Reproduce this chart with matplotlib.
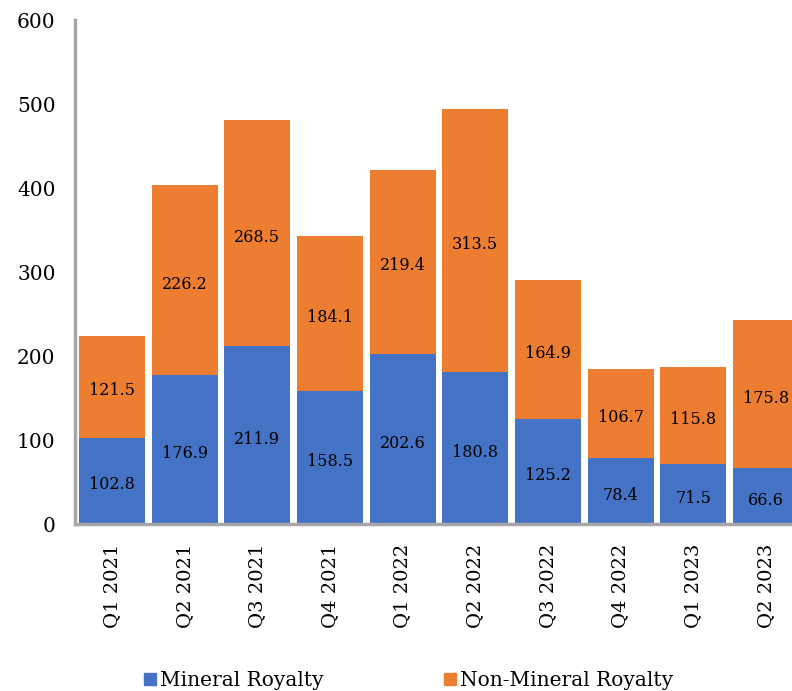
import matplotlib
matplotlib.use("Agg")

import matplotlib.pyplot as plt
from matplotlib.lines import Line2D

# Quarterly royalty figures
quarters = ["Q1 2021", "Q2 2021", "Q3 2021", "Q4 2021", "Q1 2022",
            "Q2 2022", "Q3 2022", "Q4 2022", "Q1 2023", "Q2 2023"]
mineral = [102.8, 176.9, 211.9, 158.5, 202.6, 180.8, 125.2, 78.4, 71.5, 66.6]
non_mineral = [121.5, 226.2, 268.5, 184.1, 219.4, 313.5, 164.9, 106.7, 115.8, 175.8]

blue = "#4472C4"
orange = "#ED7D31"
grey = "#A6A6A6"

plt.rcParams["font.family"] = ["DejaVu Serif"]

fig = plt.figure(figsize=(7.92, 6.91), dpi=100)
ax = fig.add_axes([75 / 792, 1 - 524 / 691, 1 - 75 / 792, (524 - 20) / 691])

x = list(range(len(quarters)))
ax.bar(x, mineral, width=0.91, color=blue, zorder=2)
ax.bar(x, non_mineral, width=0.91, bottom=mineral, color=orange, zorder=2)

# Value labels in the middle of each segment (nudged down slightly like Excel)
for i in x:
    ax.annotate(f"{mineral[i]:.1f}", (i, mineral[i] / 2), xytext=(0, -3),
                textcoords="offset points", ha="center", va="center",
                fontsize=11.5, color="black", zorder=3)
    ax.annotate(f"{non_mineral[i]:.1f}", (i, mineral[i] + non_mineral[i] / 2),
                xytext=(0, -3), textcoords="offset points", ha="center",
                va="center", fontsize=11.5, color="black", zorder=3)

ax.set_ylim(0, 600)
ax.set_xlim(-0.51, 9.36)
ax.set_yticks(range(0, 601, 100))
ax.set_xticks(x)
ax.set_xticklabels(quarters, rotation=90, fontsize=14)
ax.tick_params(axis="y", labelsize=14.5, length=0, pad=14)
ax.tick_params(axis="x", length=0, pad=14)

for side in ["top", "right"]:
    ax.spines[side].set_visible(False)
for side in ["left", "bottom"]:
    ax.spines[side].set_color(grey)
    ax.spines[side].set_linewidth(2.5)
    ax.spines[side].set_zorder(4)

handles = [
    Line2D([], [], marker="s", color=blue, linestyle="none", markersize=8.5),
    Line2D([], [], marker="s", color=orange, linestyle="none", markersize=8.5),
]
fig.legend(handles, ["Mineral Royalty", "Non-Mineral Royalty"], ncol=2,
           loc="center", bbox_to_anchor=(0.515, 0.015), frameon=False,
           fontsize=14.5, handletextpad=0.15, columnspacing=5.9, handlelength=0.7)

plt.savefig("out.png", dpi=100)
